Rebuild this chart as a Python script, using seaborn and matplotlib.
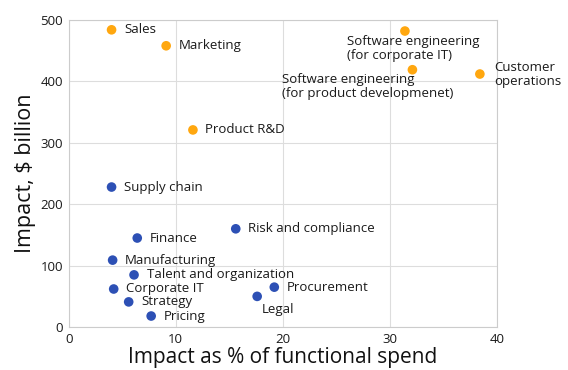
import pandas as pd
import matplotlib.pyplot as plt
import seaborn as sns

# datos
funciones = ["Sales", "Marketing", "Product R&D",
             "Software engineering\n(for corporate IT)",
             "Software engineering\n(for product developmenet)",
             "Customer\noperations",
             "Supply chain", "Finance", "Risk and compliance", "Manufacturing",
             "Talent and organization", "Corporate IT", "Strategy", "Pricing",
             "Procurement", "Legal"]
pct_gasto = [4.0, 9.1, 11.6, 31.4, 32.1, 38.4,
             4.0, 6.4, 15.6, 4.1, 6.1, 4.2, 5.6, 7.7, 19.2, 17.6]
impacto = [484, 458, 321, 482, 419, 412,
           228, 145, 160, 109, 85, 62, 41, 18, 65, 50]
grupo = ["alto"] * 6 + ["bajo"] * 10

# offsets de etiqueta (puntos) y alineacion
OFFSETS = {
    "Software engineering\n(for corporate IT)": (-42, -3, "left", "top"),
    "Software engineering\n(for product developmenet)": (-94, -2, "left", "top"),
    "Customer\noperations": (10, 0, "left", "center"),
    "Legal": (3, -5, "left", "top"),
}

df = pd.DataFrame({"funcion": funciones, "x": pct_gasto, "y": impacto, "grupo": grupo})

sns.set_style("white")
plt.rcParams["font.family"] = ["Open Sans", "DejaVu Sans"]

fig = plt.figure(figsize=(5.68, 3.70), dpi=100)
ax = fig.add_axes([0.121, 0.116, 0.754, 0.83])

sns.scatterplot(data=df, x="x", y="y", hue="grupo",
                palette={"alto": "#FFA70F", "bajo": "#2D50B5"},
                s=48, edgecolor="none", legend=False, ax=ax, zorder=3)

for _, fila in df.iterrows():
    dx, dy, ha, va = OFFSETS.get(fila["funcion"], (9, 0, "left", "center"))
    ax.annotate(fila["funcion"], (fila["x"], fila["y"]), xytext=(dx, dy),
                textcoords="offset points", ha=ha, va=va, fontsize=9.5,
                color="#1a1a1a", linespacing=1.1, annotation_clip=False)

ax.set_xlim(0, 40)
ax.set_ylim(0, 500)
ax.set_xticks([0, 10, 20, 30, 40])
ax.set_yticks([0, 100, 200, 300, 400, 500])
ax.grid(True, color="#dddddd", linewidth=0.8)
ax.set_axisbelow(True)
for s in ax.spines.values():
    s.set_color("#cccccc")
ax.tick_params(labelsize=9.5, length=0, pad=4, colors="#1a1a1a")
ax.set_xlabel("Impact as % of functional spend", fontsize=15, color="#111111", labelpad=1)
ax.set_ylabel("Impact, $ billion", fontsize=15.5, color="#111111", labelpad=3)

plt.savefig("out.png", dpi=100)
plt.close()
